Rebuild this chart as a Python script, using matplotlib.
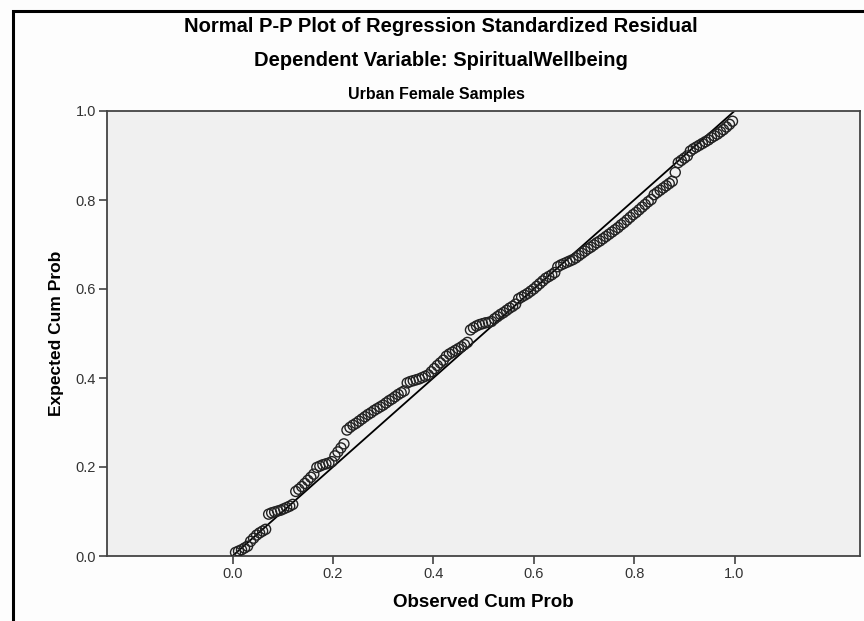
import numpy as np
import matplotlib
matplotlib.use("Agg")
import matplotlib.pyplot as plt
from matplotlib.patches import Rectangle

plt.rcParams['font.family'] = ['Liberation Sans', 'DejaVu Sans']

# observed / expected cumulative probabilities
observed = [
    0.006, 0.012, 0.018, 0.024, 0.030,
    0.036, 0.042, 0.048, 0.054, 0.060, 0.066,
    0.072, 0.078, 0.084, 0.090, 0.096, 0.102, 0.108, 0.114, 0.120,
    0.126, 0.132, 0.138, 0.144, 0.150, 0.156, 0.162,
    0.168, 0.174, 0.180, 0.186, 0.192, 0.198,
    0.204, 0.210, 0.216, 0.222,
    0.228, 0.234, 0.240, 0.246, 0.252, 0.258, 0.264, 0.270, 0.276,
    0.282, 0.288, 0.294, 0.300, 0.306, 0.312, 0.318, 0.324, 0.330, 0.336, 0.342,
    0.348, 0.354, 0.360, 0.366, 0.372, 0.378, 0.384, 0.390,
    0.396, 0.402, 0.408, 0.414, 0.420,
    0.426, 0.432, 0.438, 0.444, 0.450, 0.456, 0.462, 0.468,
    0.474, 0.480, 0.486, 0.492, 0.498, 0.504, 0.510, 0.516,
    0.522, 0.528, 0.534, 0.540, 0.546, 0.552,
    0.558, 0.564, 0.570, 0.576, 0.582, 0.588, 0.594, 0.600, 0.606, 0.612,
    0.618, 0.624, 0.630, 0.636, 0.642,
    0.648, 0.654, 0.660, 0.666, 0.672,
    0.678, 0.684, 0.690, 0.696, 0.702, 0.708, 0.714, 0.720, 0.726, 0.732,
    0.738, 0.744, 0.750, 0.756, 0.762, 0.768, 0.774, 0.780, 0.786, 0.792, 0.798,
    0.804, 0.810, 0.816, 0.822, 0.828, 0.834,
    0.840, 0.846, 0.852, 0.858, 0.864, 0.870, 0.876,
    0.882,
    0.888, 0.894, 0.900, 0.906,
    0.912, 0.918, 0.924, 0.930, 0.936, 0.942, 0.948,
    0.954, 0.960, 0.966, 0.972, 0.978, 0.984, 0.990, 0.996,
]
expected = [
    0.008, 0.011, 0.014, 0.018, 0.022,
    0.033, 0.040, 0.047, 0.052, 0.056, 0.060,
    0.094, 0.097, 0.099, 0.101, 0.103, 0.106, 0.109, 0.112, 0.116,
    0.145, 0.150, 0.156, 0.163, 0.170, 0.177, 0.184,
    0.199, 0.202, 0.205, 0.207, 0.209, 0.212,
    0.225, 0.234, 0.243, 0.252,
    0.283, 0.289, 0.294, 0.298, 0.303, 0.308, 0.313, 0.318, 0.322,
    0.327, 0.331, 0.335, 0.339, 0.344, 0.349, 0.353, 0.358, 0.363, 0.367, 0.371,
    0.389, 0.392, 0.394, 0.396, 0.398, 0.401, 0.404, 0.407,
    0.414, 0.421, 0.428, 0.434, 0.440,
    0.449, 0.454, 0.458, 0.462, 0.466, 0.470, 0.475, 0.480,
    0.508, 0.513, 0.517, 0.520, 0.522, 0.524, 0.525, 0.527,
    0.533, 0.538, 0.543, 0.547, 0.552, 0.557,
    0.561, 0.566, 0.578, 0.582, 0.586, 0.590, 0.595, 0.600, 0.606, 0.612,
    0.618, 0.624, 0.628, 0.632, 0.637,
    0.650, 0.654, 0.657, 0.660, 0.663,
    0.666, 0.670, 0.675, 0.680, 0.685, 0.690, 0.694, 0.699, 0.704, 0.708,
    0.713, 0.718, 0.723, 0.728, 0.733, 0.738, 0.744, 0.749, 0.755, 0.761, 0.767,
    0.772, 0.778, 0.784, 0.790, 0.796, 0.801,
    0.812, 0.817, 0.822, 0.827, 0.832, 0.837, 0.842,
    0.862,
    0.884, 0.889, 0.894, 0.899,
    0.910, 0.915, 0.919, 0.923, 0.927, 0.931, 0.935,
    0.940, 0.944, 0.948, 0.953, 0.958, 0.964, 0.970, 0.977,
]
ticks = [0.0, 0.2, 0.4, 0.6, 0.8, 1.0]
tick_labels = ['0.0', '0.2', '0.4', '0.6', '0.8', '1.0']

fig = plt.figure(figsize=(8.64, 6.21), dpi=100)
fig.patch.set_facecolor('#fdfdfd')

# outer frame like the SPSS output box
fig.patches.append(Rectangle((13/864, -0.1), 1.2, 1 - 11/621 + 0.1,
                             transform=fig.transFigure, fill=False,
                             edgecolor='black', linewidth=2.2))

ax = fig.add_axes([107/864, 65/621, 753/864, 445/621])
ax.set_facecolor('#f0f0f0')

ax.plot([0, 1], [0, 1], color='black', linewidth=1.3, zorder=2)
ax.scatter(observed, expected, s=52, facecolors='none', edgecolors='#222222',
           linewidths=1.0, zorder=3)

ax.set_xlim(-0.25, 1.25)
ax.set_ylim(0, 1)
ax.set_xticks(ticks)
ax.set_xticklabels(tick_labels)
ax.set_yticks(ticks)
ax.set_yticklabels(tick_labels)
ax.tick_params(direction='out', length=6, width=1.1, color='#333333',
               labelsize=10.5, labelcolor='#333333', pad=2)
for sp in ax.spines.values():
    sp.set_color('#444444')
    sp.set_linewidth(1.3)

ax.set_xlabel('Observed Cum Prob', fontsize=13.5, fontweight='bold', labelpad=9)
ax.set_ylabel('Expected Cum Prob', fontsize=12.5, fontweight='bold', labelpad=8)

fig.text(0.51, 1 - 27/621, 'Normal P-P Plot of Regression Standardized Residual',
         ha='center', va='center', fontsize=14.5, fontweight='bold')
fig.text(0.51, 1 - 61/621, 'Dependent Variable: SpiritualWellbeing',
         ha='center', va='center', fontsize=14.5, fontweight='bold')
fig.text(0.505, 1 - 95/621, 'Urban Female Samples',
         ha='center', va='center', fontsize=11.5, fontweight='bold')

fig.savefig('out.png', dpi=100, facecolor=fig.get_facecolor())
